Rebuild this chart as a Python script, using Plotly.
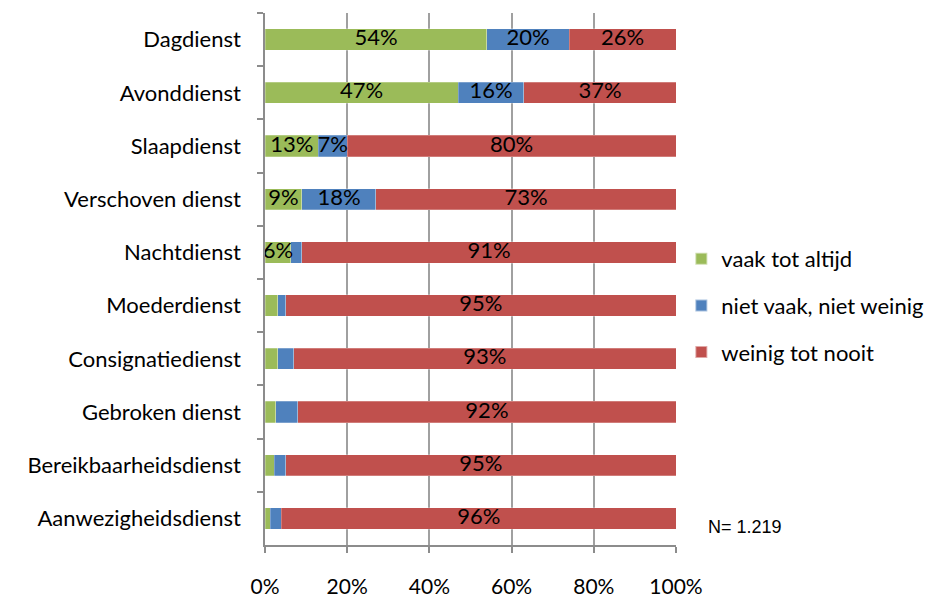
import plotly.graph_objects as go

# Werkroosters (boven naar onder)
diensten = [
    "Dagdienst", "Avonddienst", "Slaapdienst", "Verschoven dienst", "Nachtdienst",
    "Moederdienst", "Consignatiedienst", "Gebroken dienst",
    "Bereikbaarheidsdienst", "Aanwezigheidsdienst",
]
reeksen = ["vaak tot altijd", "niet vaak, niet weinig", "weinig tot nooit"]

# Aandelen in procenten per reeks
vaak = [54, 47, 13, 9, 6.3, 3.1, 3.1, 2.6, 2.2, 1.3]
gemiddeld = [20, 16, 7, 18, 2.7, 1.9, 3.9, 5.4, 2.8, 2.7]
weinig = [26, 37, 80, 73, 91, 95, 93, 92, 95, 96]

# Labels die in de balken getoond worden ("" = geen label)
label_vaak = ["54%", "47%", "13%", "9%", "6%", "", "", "", "", ""]
label_gemiddeld = ["20%", "16%", "7%", "18%", "", "", "", "", "", ""]
label_weinig = ["26%", "37%", "80%", "73%", "91%", "95%", "93%", "92%", "95%", "96%"]

x_ticks = [0, 20, 40, 60, 80, 100]
x_ticklabels = ["0%", "20%", "40%", "60%", "80%", "100%"]

kleuren = ["#9BBB59", "#4F81BD", "#C0504D"]
waarden = [vaak, gemiddeld, weinig]
labels = [label_vaak, label_gemiddeld, label_weinig]

FONT = "Lato"
fig = go.Figure()

for naam, kleur, vals in zip(reeksen, kleuren, waarden):
    fig.add_trace(go.Bar(
        y=diensten, x=vals, name=naam, orientation="h",
        marker=dict(color=kleur, line=dict(color="rgba(255,255,255,0.5)", width=0.5)),
        legendgroup=naam, hoverinfo="skip",
    ))

# Labels centreren in elk segment (mogen buiten smalle segmenten uitsteken)
start = [0] * len(diensten)
for vals, lbl in zip(waarden, labels):
    midden = [s + v / 2 for s, v in zip(start, vals)]
    fig.add_trace(go.Scatter(
        y=diensten, x=midden, text=lbl, mode="text",
        textposition="middle center",
        textfont=dict(family=FONT, size=22, color="#000000"),
        showlegend=False, hoverinfo="skip",
    ))
    start = [s + v for s, v in zip(start, vals)]

fig.update_layout(
    width=938, height=598,
    margin=dict(l=265, r=262, t=13, b=53, autoexpand=False),
    barmode="stack", bargap=0.6,
    plot_bgcolor="white", paper_bgcolor="white",
    font=dict(family=FONT, size=22, color="#000000"),
    showlegend=True,
    legend=dict(
        x=1.013, y=0.577, xanchor="left", yanchor="top",
        font=dict(family=FONT, size=22, color="#000000"),
        tracegroupgap=15, itemsizing="constant",
        bgcolor="rgba(0,0,0,0)",
    ),
    annotations=[dict(
        text="N= 1.219", xref="paper", yref="paper",
        x=1.072, y=0.033, xanchor="left", yanchor="middle", showarrow=False,
        font=dict(family="Liberation Sans", size=18, color="#000000"),
    )],
)

fig.update_xaxes(
    range=[0, 100], tickvals=x_ticks, ticktext=x_ticklabels,
    showgrid=True, gridcolor="#A0A0A0", gridwidth=1.5,
    showline=True, linecolor="#8C8C8C", linewidth=1.5,
    ticks="outside", ticklen=6, tickcolor="#8C8C8C", tickwidth=1.5,
    ticklabelstandoff=16, zeroline=False, automargin=False,
    tickfont=dict(family=FONT, size=21),
)
fig.update_yaxes(
    autorange="reversed", type="category",
    showgrid=False, showline=True, linecolor="#8C8C8C", linewidth=1.5,
    ticks="outside", ticklen=6, tickcolor="#8C8C8C", tickwidth=1.5,
    tickson="boundaries", ticklabelstandoff=18, automargin=False,
    tickfont=dict(family=FONT, size=22),
)

fig.write_html("out.html")
